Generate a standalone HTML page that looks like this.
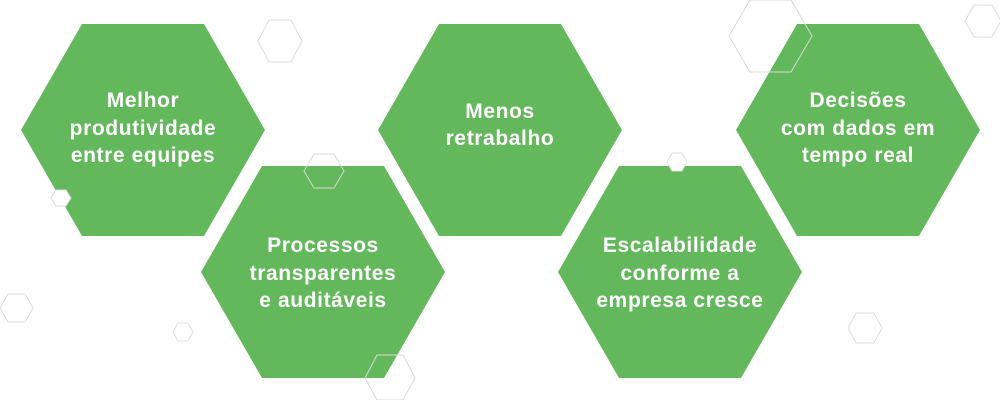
<!DOCTYPE html>
<html><head><meta charset="utf-8"><style>
html,body{margin:0;padding:0;background:#fff;}
svg{display:block;}
text{font-family:"Liberation Sans","DejaVu Sans",sans-serif;font-size:21px;font-weight:bold;letter-spacing:0.6px;fill:#fff;text-anchor:middle;}
</style></head><body>
<svg width="1000" height="400" viewBox="0 0 1000 400" xmlns="http://www.w3.org/2000/svg">
<defs>
<polygon id="big" points="-122,0 -61,-106 61,-106 122,0 61,106 -61,106"/>
</defs>
<g fill="none" stroke="#dcdcdc" stroke-width="1">
<polygon points="258,41 269,20 291,20 302,41 291,62 269,62"/>
<polygon points="965,21 974,5 992,5 1001,21 992,37 974,37"/>
<polygon points="0,308 8,294 25,294 33,308 25,322 8,322"/>
<polygon points="173,332 178,323 188,323 193,332 188,341 178,341"/>
<polygon points="848,328 856,313 874,313 882,328 874,343 856,343"/>
</g>
<g fill="#62b85a">
<use href="#big" x="143" y="130"/>
<use href="#big" x="323" y="272"/>
<use href="#big" x="500" y="130"/>
<use href="#big" x="680" y="272"/>
<use href="#big" x="858" y="130"/>
</g>
<g fill="none" stroke="#d8d8d8" stroke-width="1">
<polygon points="729,36 750,0 791,0 812,36 791,72 750,72"/>
<polygon points="304,171 314,154 334,154 344,171 334,188 314,188"/>
<polygon points="365,378 377,355 403,355 415,378 403,400 377,400"/>
</g>
<g fill="#fff" stroke="#dcdcdc" stroke-width="1">
<polygon points="51,198 56,190 66,190 71,198 66,206 56,206"/>
<polygon points="667,162 672,153 682,153 687,162 682,171 672,171"/>
</g>
<text x="143" y="107">Melhor</text>
<text x="143" y="135">produtividade</text>
<text x="143" y="162">entre equipes</text>
<text x="323" y="252">Processos</text>
<text x="323" y="280">transparentes</text>
<text x="323" y="307">e auditáveis</text>
<text x="500" y="118">Menos</text>
<text x="500" y="145">retrabalho</text>
<text x="680" y="252">Escalabilidade</text>
<text x="680" y="280">conforme a</text>
<text x="680" y="307">empresa cresce</text>
<text x="858" y="107">Decisões</text>
<text x="858" y="135">com dados em</text>
<text x="858" y="162">tempo real</text>
</svg>
</body></html>
